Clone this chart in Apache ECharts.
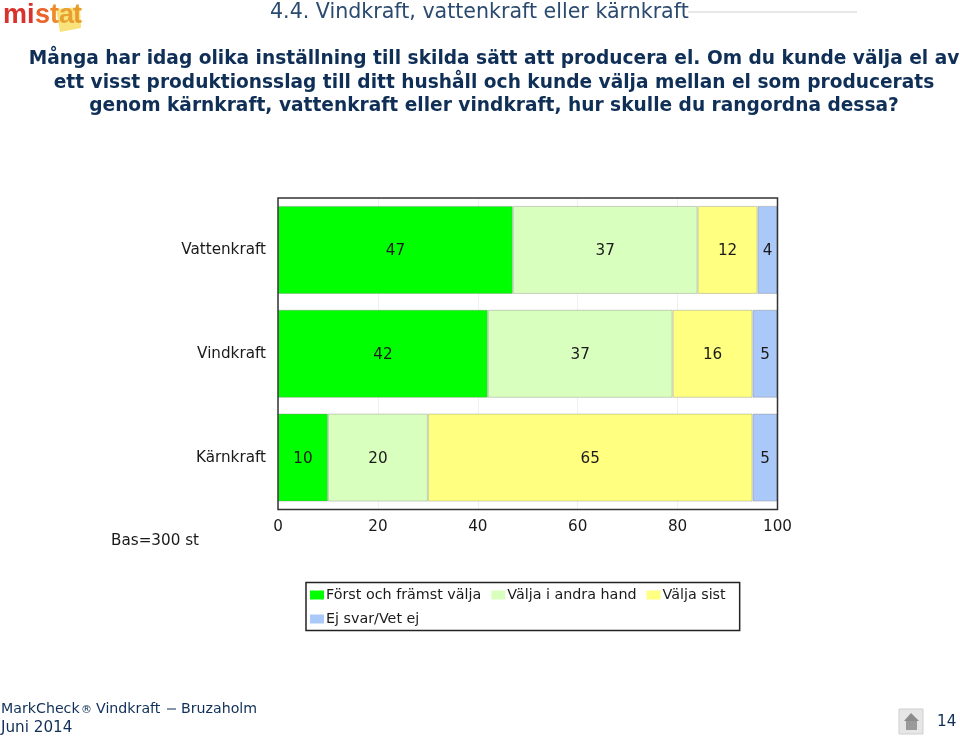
<!DOCTYPE html>
<html><head><meta charset="utf-8">
<style>html,body{margin:0;padding:0;background:#fff}#c{width:960px;height:738px}</style>
<script src="https://cdn.jsdelivr.net/npm/echarts@6/dist/echarts.min.js"></script>
</head><body><div id="c"></div>
<script>
const categories = ['Kärnkraft','Vindkraft','Vattenkraft'];
const ticks = [0,20,40,60,80,100];
const forst = [10,42,47];
const andra = [20,37,37];
const sist = [65,16,12];
const ejsvar = [5,5,4];
const seriesNames = ['Först och främst välja','Välja i andra hand','Välja sist','Ej svar/Vet ej'];
const colors = ['#00ff00','#d9ffbf','#ffff80','#aac8f8'];
const questionLines = ['Många har idag olika inställning till skilda sätt att producera el. Om du kunde välja el av','ett visst produktionsslag till ditt hushåll och kunde välja mellan el som producerats','genom kärnkraft, vattenkraft eller vindkraft, hur skulle du rangordna dessa?'];
const font = '"DejaVu Sans", Verdana, sans-serif';
const logoFont = '"Liberation Sans",sans-serif';
const ink = '#0f2f57';
const chart = echarts.init(document.getElementById('c'),null,{renderer:'canvas'});
const mk = (i,d)=>({name:seriesNames[i],type:'bar',stack:'a',data:d,barWidth:88,
  itemStyle:{color:colors[i],borderColor:'rgba(120,120,120,0.35)',borderWidth:1},
  label:{show:true,position:'inside',offset:[0,1],color:'#1a1a1a',fontFamily:font,fontSize:15.2},animation:false});
const txt=(x,y,t,s,c,w,a)=>({type:'text',x,y,style:{text:t,fontFamily:font,fontSize:s,fill:c||ink,fontWeight:w||'normal',align:a||'left',verticalAlign:'middle'}});
const logo=(x,t,c)=>({type:'text',x,y:16,z:2,style:{text:t,fontFamily:logoFont,fontSize:27,fontWeight:'bold',fill:c,verticalAlign:'middle'}});
chart.setOption({
  animation:false,
  grid:{left:278,right:182.5,top:198,height:311.5,show:true,z:3,borderColor:'#333',borderWidth:1.5,backgroundColor:'transparent'},
  xAxis:{type:'value',min:0,max:100,interval:20,
    axisLine:{show:false},axisTick:{show:false},
    splitLine:{show:true,lineStyle:{color:'#f0f0f0',width:1}},
    axisLabel:{margin:10,color:'#1a1a1a',fontFamily:font,fontSize:15.2,customValues:ticks,formatter:v=>String(v)}},
  yAxis:{type:'category',data:categories,axisLine:{show:false},axisTick:{show:false},
    axisLabel:{margin:12,padding:[2,0,0,0],color:'#1a1a1a',fontFamily:font,fontSize:15.2}},
  legend:{left:306,top:582.5,width:433,orient:'horizontal',padding:[5.5,14,4.5,4],itemGap:10,
    itemWidth:14,itemHeight:9,borderColor:'#222',borderWidth:1.5,backgroundColor:'#fff',
    icon:'rect',itemStyle:{borderWidth:0},textStyle:{fontFamily:font,fontSize:14.3,lineHeight:12,color:'#1a1a1a',padding:[0,0,0,-3]},
    data:seriesNames},
  series:[mk(0,forst),mk(1,andra),mk(2,sist),mk(3,ejsvar)],
  graphic:{elements:[
    {type:'polygon',shape:{points:[[56,9],[80,7],[81,28],[60,32]]},style:{fill:'#f9e27a'}},
    logo(3,'mi','#d8322e'),logo(35,'s','#e9652b'),logo(50,'t','#ef8a2a'),logo(59,'a','#e8a030'),logo(73,'t','#e89a2c'),
    txt(270,13,'4.4. Vindkraft, vattenkraft eller kärnkraft',20.6,'#2b4a6f'),
    {type:'line',shape:{x1:688,y1:12,x2:857,y2:12},style:{stroke:'#e8e8e8',lineWidth:2}},
    txt(494,59,questionLines[0],18.6,ink,'bold','center'),
    txt(494,83,questionLines[1],18.6,ink,'bold','center'),
    txt(494,106,questionLines[2],18.6,ink,'bold','center'),
    txt(111,541,'Bas=300 st',15.2,'#1a1a1a'),
    txt(1,709,'MarkCheck',14.2,ink),
    txt(81,710,'®',11,ink),
    txt(96,709,'Vindkraft',14.2,ink),
    {type:'line',shape:{x1:167,y1:709,x2:176,y2:709},style:{stroke:ink,lineWidth:1}},
    txt(181,709,'Bruzaholm',14.2,ink),
    txt(1,728,'Juni 2014',15.2,ink),
    txt(937,722,'14',15.2,ink),
    {type:'rect',shape:{x:899,y:709,width:24,height:25},style:{fill:'#e6e6e6',stroke:'#cfcfcf'}},
    {type:'polygon',shape:{points:[[904,721],[911,713],[919,721]]},style:{fill:'#8c8c8c'}},
    {type:'rect',shape:{x:906,y:721,width:11,height:9},style:{fill:'#9a9a9a'}}
  ]}
});
</script></body></html>
